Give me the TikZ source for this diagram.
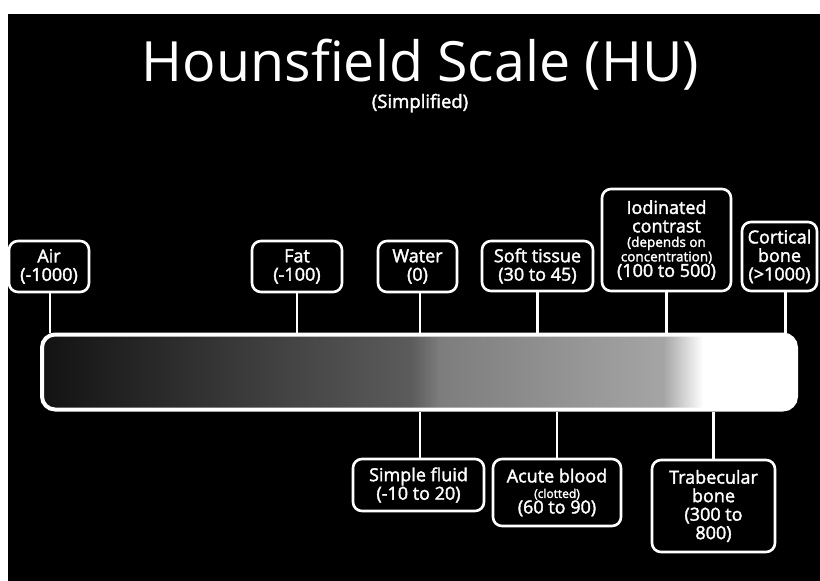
\documentclass[tikz,border=0pt]{standalone}
\usepackage{fontspec}
\setmainfont{Open Sans}
\newfontfamily\semib[FakeBold=2]{Open Sans}
\definecolor{g0}{RGB}{18,18,18}
\definecolor{g1}{RGB}{92,92,92}
\definecolor{g2}{RGB}{125,125,125}
\definecolor{g3}{RGB}{165,165,165}
\begin{document}
\begin{tikzpicture}[x=1pt,y=-1pt,
  lbl/.style={draw=white, line width=2.6pt, rounded corners=9pt, fill=black, text=white,
    align=center, inner sep=0pt, font=\semib\fontsize{18}{18.5}\selectfont},
  tick/.style={draw=white, line width=2.6pt},
  barbox/.style={draw=white, line width=4pt, rounded corners=13pt, inner sep=0pt,
    minimum width=754pt, minimum height=75pt}]
\useasboundingbox (0,0) rectangle (820,581);
\fill[white] (0,0) rectangle (820,581);
\fill[black] (8,14) rectangle (820,581);
% title
\node[anchor=base, text=white, inner sep=0pt, font=\fontsize{55.5}{60}\selectfont] (title) at (420.5,81) {Hounsfield Scale (HU)};
\node[anchor=base, text=white, inner sep=0pt, font=\semib\fontsize{18.5}{20}\selectfont] (sub) at (420,108) {(Simplified)};
% bar shading
\begin{scope}
\clip[rounded corners=12pt] (42,335) rectangle (796,409);
\shade[left color=g0, right color=g1] (40,330) rectangle (412,412);
\shade[left color=g1, right color=g2] (411.5,330) rectangle (440,412);
\shade[left color=g2, right color=g3] (439.5,330) rectangle (664,412);
\shade[left color=g3, right color=white] (663.5,330) rectangle (703,412);
\fill[white] (702.5,330) rectangle (800,412);
\end{scope}
\node[barbox] (bar) at (419,372) {};
% top labels
\node[lbl, minimum width=80pt, minimum height=51pt] (air) at (49,266.5) {Air\\(-1000)};
\node[lbl, minimum width=90pt, minimum height=51pt] (fat) at (297,266.5) {Fat\\(-100)};
\node[lbl, minimum width=79pt, minimum height=51pt] (water) at (417.5,266.5) {Water\\(0)};
\node[lbl, minimum width=111pt, minimum height=50pt] (soft) at (537.5,266) {Soft tissue\\(30 to 45)};
\node[lbl, minimum width=129pt, minimum height=102pt] (iod) at (666.5,240) {Iodinated\\contrast\\[-4pt]{\fontsize{13.5}{14}\selectfont (depends on}\\[-4pt]{\fontsize{13.5}{14}\selectfont concentration)}\\[-3pt](100 to 500)};
\node[lbl, minimum width=75pt, minimum height=69pt] (cort) at (779.5,256.5) {Cortical\\bone\\(>1000)};
% bottom labels
\node[lbl, minimum width=131pt, minimum height=52pt] (fluid) at (418.5,485) {Simple fluid\\(-10 to 20)};
\node[lbl, minimum width=128pt, minimum height=67pt] (blood) at (557,492.5) {Acute blood\\[-3pt]{\fontsize{12}{13}\selectfont (clotted)}\\[-3pt](60 to 90)};
\node[lbl, minimum width=123pt, minimum height=92pt] (trab) at (713.5,506) {Trabecular\\bone\\(300 to\\800)};
% ticks
\draw[tick] ([xshift=1pt]air.south) -- ([xshift=1pt]air.south |- bar.north);
\draw[tick] (fat.south) -- (fat.south |- bar.north);
\draw[tick] ([xshift=2.5pt]water.south) -- ([xshift=2.5pt]water.south |- bar.north);
\draw[tick] (soft.south) -- (soft.south |- bar.north);
\draw[tick] (iod.south) -- (iod.south |- bar.north);
\draw[tick] ([xshift=6pt]cort.south) -- ([xshift=6pt]cort.south |- bar.north);
\draw[tick] ([xshift=1.5pt]fluid.north) -- ([xshift=1.5pt]fluid.north |- bar.south);
\draw[tick] (blood.north) -- (blood.north |- bar.south);
\draw[tick] (trab.north) -- (trab.north |- bar.south);
\end{tikzpicture}
\end{document}
